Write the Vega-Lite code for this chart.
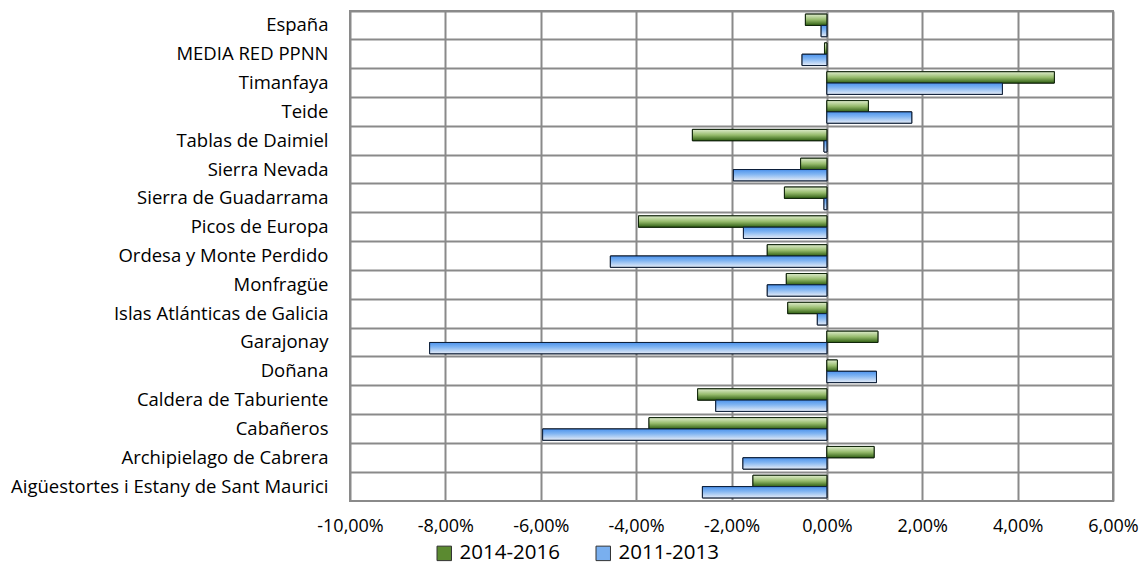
{
  "$schema": "https://vega.github.io/schema/vega-lite/v6.json",
  "width": 763,
  "height": 490,
  "autosize": {"type": "none"},
  "padding": {"left": 350, "top": 11, "right": 28, "bottom": 66},
  "background": "white",
  "config": {
    "view": {"stroke": "#8a8a8a", "strokeWidth": 2},
    "font": "Open Sans"
  },
  "data": {
    "values": [
      {"park": "España", "period": "2014-2016", "value": -0.45},
      {"park": "España", "period": "2011-2013", "value": -0.12},
      {"park": "MEDIA RED PPNN", "period": "2014-2016", "value": -0.05},
      {"park": "MEDIA RED PPNN", "period": "2011-2013", "value": -0.52},
      {"park": "Timanfaya", "period": "2014-2016", "value": 4.77},
      {"park": "Timanfaya", "period": "2011-2013", "value": 3.68},
      {"park": "Teide", "period": "2014-2016", "value": 0.87},
      {"park": "Teide", "period": "2011-2013", "value": 1.78},
      {"park": "Tablas de Daimiel", "period": "2014-2016", "value": -2.82},
      {"park": "Tablas de Daimiel", "period": "2011-2013", "value": -0.06},
      {"park": "Sierra Nevada", "period": "2014-2016", "value": -0.55},
      {"park": "Sierra Nevada", "period": "2011-2013", "value": -1.96},
      {"park": "Sierra de Guadarrama", "period": "2014-2016", "value": -0.89},
      {"park": "Sierra de Guadarrama", "period": "2011-2013", "value": -0.06},
      {"park": "Picos de Europa", "period": "2014-2016", "value": -3.95},
      {"park": "Picos de Europa", "period": "2011-2013", "value": -1.75},
      {"park": "Ordesa y Monte Perdido", "period": "2014-2016", "value": -1.25},
      {"park": "Ordesa y Monte Perdido", "period": "2011-2013", "value": -4.54},
      {"park": "Monfragüe", "period": "2014-2016", "value": -0.85},
      {"park": "Monfragüe", "period": "2011-2013", "value": -1.25},
      {"park": "Islas Atlánticas de Galicia", "period": "2014-2016", "value": -0.82},
      {"park": "Islas Atlánticas de Galicia", "period": "2011-2013", "value": -0.2},
      {"park": "Garajonay", "period": "2014-2016", "value": 1.07},
      {"park": "Garajonay", "period": "2011-2013", "value": -8.33},
      {"park": "Doñana", "period": "2014-2016", "value": 0.22},
      {"park": "Doñana", "period": "2011-2013", "value": 1.04},
      {"park": "Caldera de Taburiente", "period": "2014-2016", "value": -2.71},
      {"park": "Caldera de Taburiente", "period": "2011-2013", "value": -2.33},
      {"park": "Cabañeros", "period": "2014-2016", "value": -3.73},
      {"park": "Cabañeros", "period": "2011-2013", "value": -5.96},
      {"park": "Archipielago de Cabrera", "period": "2014-2016", "value": 0.99},
      {"park": "Archipielago de Cabrera", "period": "2011-2013", "value": -1.76},
      {"park": "Aigüestortes i Estany de Sant Maurici", "period": "2014-2016", "value": -1.55},
      {"park": "Aigüestortes i Estany de Sant Maurici", "period": "2011-2013", "value": -2.61}
    ]
  },
  "encoding": {
    "y": {
      "field": "park",
      "type": "nominal",
      "sort": null,
      "scale": {"paddingInner": 0, "paddingOuter": 0},
      "axis": {
        "title": null,
        "domain": false,
        "ticks": false,
        "grid": true,
        "bandPosition": 0,
        "gridColor": "#8a8a8a",
        "gridWidth": 2,
        "labelFont": "Open Sans",
        "labelFontSize": 18.5,
        "labelLimit": 500,
        "labelColor": "#000000",
        "labelPadding": 22
      }
    },
    "x": {
      "field": "value",
      "type": "quantitative",
      "scale": {"domain": [-10, 6], "nice": false, "zero": false},
      "axis": {
        "title": null,
        "values": [-10, -8, -6, -4, -2, 0, 2, 4, 6],
        "domain": false,
        "ticks": false,
        "grid": true,
        "gridColor": "#8a8a8a",
        "gridWidth": 2,
        "labelFont": "Open Sans",
        "labelFontSize": 18,
        "labelFlush": false,
        "labelOverlap": false,
        "labelColor": "#000000",
        "labelPadding": 16,
        "labelExpr": "replace(replace(format(datum.value, '.2f'), '.', ','), '\u2212', '-') + '%'"
      }
    },
    "yOffset": {
      "field": "period",
      "type": "nominal",
      "sort": ["2014-2016", "2011-2013"],
      "scale": {"domain": ["2014-2016", "2011-2013"], "paddingInner": 0, "paddingOuter": 0.275}
    }
  },
  "layer": [
    {
      "mark": {"type": "bar", "stroke": "#000000", "strokeWidth": 1},
      "encoding": {
        "color": {
          "field": "period",
          "type": "nominal",
          "scale": {"domain": ["2014-2016", "2011-2013"], "range": ["#5b8a30", "#79afef"]},
          "legend": {
            "title": null,
            "orient": "none",
            "direction": "horizontal",
            "legendX": 84,
            "legendY": 532,
            "symbolType": "square",
            "symbolSize": 210,
            "symbolStrokeColor": "#333333",
            "symbolStrokeWidth": 1,
            "labelFont": "Open Sans",
            "labelFontSize": 20.5,
            "labelColor": "#000000",
            "labelOffset": 5,
            "columnPadding": 33
          }
        }
      }
    },
    {
      "transform": [{"filter": "datum.period === '2014-2016'"}],
      "mark": {
        "type": "bar",
        "stroke": "#10260a",
        "strokeWidth": 1,
        "fill": {
          "gradient": "linear",
          "x1": 0, "y1": 0, "x2": 0, "y2": 1,
          "stops": [
            {"offset": 0, "color": "#dfeccd"},
            {"offset": 0.5, "color": "#96bb6c"},
            {"offset": 1, "color": "#2f5e12"}
          ]
        }
      }
    },
    {
      "transform": [{"filter": "datum.period === '2011-2013'"}],
      "mark": {
        "type": "bar",
        "stroke": "#0d1f3a",
        "strokeWidth": 1,
        "fill": {
          "gradient": "linear",
          "x1": 0, "y1": 0, "x2": 0, "y2": 1,
          "stops": [
            {"offset": 0, "color": "#4d93ec"},
            {"offset": 0.4, "color": "#7fb4f2"},
            {"offset": 1, "color": "#e6ecf6"}
          ]
        }
      }
    }
  ]
}
